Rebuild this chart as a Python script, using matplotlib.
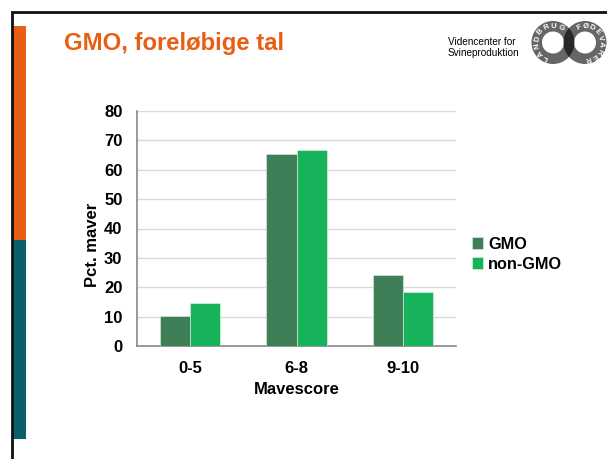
import numpy as np
import matplotlib
matplotlib.use("Agg")
import matplotlib.pyplot as plt
from matplotlib.patches import Rectangle, Wedge

plt.rcParams["font.family"] = ["Liberation Sans", "DejaVu Sans"]

categories = ["0-5", "6-8", "9-10"]
gmo = [10.2, 65.2, 24.1]
non_gmo = [14.5, 66.7, 18.5]
series_names = ["GMO", "non-GMO"]
yticks = [0, 10, 20, 30, 40, 50, 60, 70, 80]

GMO_COLOR = "#3f7f58"
NON_GMO_COLOR = "#16b35b"
ORANGE = "#e95e12"
TEAL = "#0b5f6a"

W, H = 607, 459
fig = plt.figure(figsize=(W / 100, H / 100), dpi=100)
fig.patch.set_facecolor("white")

# slide decoration in pixel coordinates
deco = fig.add_axes([0, 0, 1, 1])
deco.set_xlim(0, W)
deco.set_ylim(H, 0)
deco.axis("off")
deco.add_patch(Rectangle((12.5, 26), 13.5, 214, color=ORANGE, lw=0))
deco.add_patch(Rectangle((12.5, 240), 13.5, 199, color=TEAL, lw=0))
deco.plot([11.5, 11.5, W], [H, 12, 12], color="#111111", lw=2.0,
          solid_joinstyle="miter")

deco.text(64, 50, "GMO, foreløbige tal", color=ORANGE, fontsize=17.2,
          fontweight="bold", ha="left", va="baseline")

deco.text(448, 47.5, "Videncenter for\nSvineproduktion", fontsize=7.2,
          ha="left", va="center", linespacing=1.2,
          family=["Liberation Sans Narrow", "Liberation Sans"])

# the two interlocking rings of the logo
rings = [(553, 42.5, "LANDBRUG", 245, 62), (585, 42.5, "FØDEVARER", 112, -78)]
for cx, cy, word, a0, a1 in rings:
    deco.add_patch(Wedge((cx, cy), 21.5, 0, 360, width=10.5,
                         facecolor="black", alpha=0.6, lw=0))
for cx, cy, word, a0, a1 in rings:
    for ang, ch in zip(np.linspace(a0, a1, len(word)), word):
        t = np.radians(ang)
        deco.text(cx + 16.2 * np.cos(t), cy - 16.2 * np.sin(t), ch,
                  color="white", fontsize=5.6, fontweight="bold",
                  rotation=ang - 90, ha="center", va="center",
                  rotation_mode="anchor")

# chart
ax = fig.add_axes([137 / W, 1 - 346 / H, 319 / W, 235 / H])
x = np.arange(len(categories))
bw = 0.283
ax.bar(x - bw / 2, gmo, bw, color=GMO_COLOR, label=series_names[0],
       edgecolor="#e8f0ea", linewidth=0.4, zorder=3)
ax.bar(x + bw / 2, non_gmo, bw, color=NON_GMO_COLOR, label=series_names[1],
       edgecolor="#e8f5ec", linewidth=0.4, zorder=3)

ax.set_xlim(-0.5, len(categories) - 0.5)
ax.set_ylim(0, 80)
ax.set_yticks(yticks)
ax.set_xticks(x)
ax.set_xticklabels(categories)
ax.grid(axis="y", color="#d9d9d9", lw=1.0, zorder=0)
for s in ["top", "right"]:
    ax.spines[s].set_visible(False)
for s in ["left", "bottom"]:
    ax.spines[s].set_color("#888888")
    ax.spines[s].set_linewidth(1.2)
ax.tick_params(length=0, labelsize=12)
ax.tick_params(axis="y", pad=10.5)
ax.tick_params(axis="x", pad=11)
for lbl in ax.get_xticklabels() + ax.get_yticklabels():
    lbl.set_fontweight("bold")
ax.set_xlabel("Mavescore", fontsize=12, fontweight="bold", labelpad=4)
ax.set_ylabel("Pct. maver", fontsize=12, fontweight="bold")
ax.yaxis.set_label_coords(-0.117, 0.43)

leg = ax.legend(loc="center left", bbox_to_anchor=(1.016, 0.39), frameon=False,
                prop={"weight": "bold", "size": 11.7}, handlelength=0.65,
                handleheight=0.75, handletextpad=0.3, labelspacing=0.3,
                borderpad=0.2)

fig.savefig("out.png", dpi=100)
